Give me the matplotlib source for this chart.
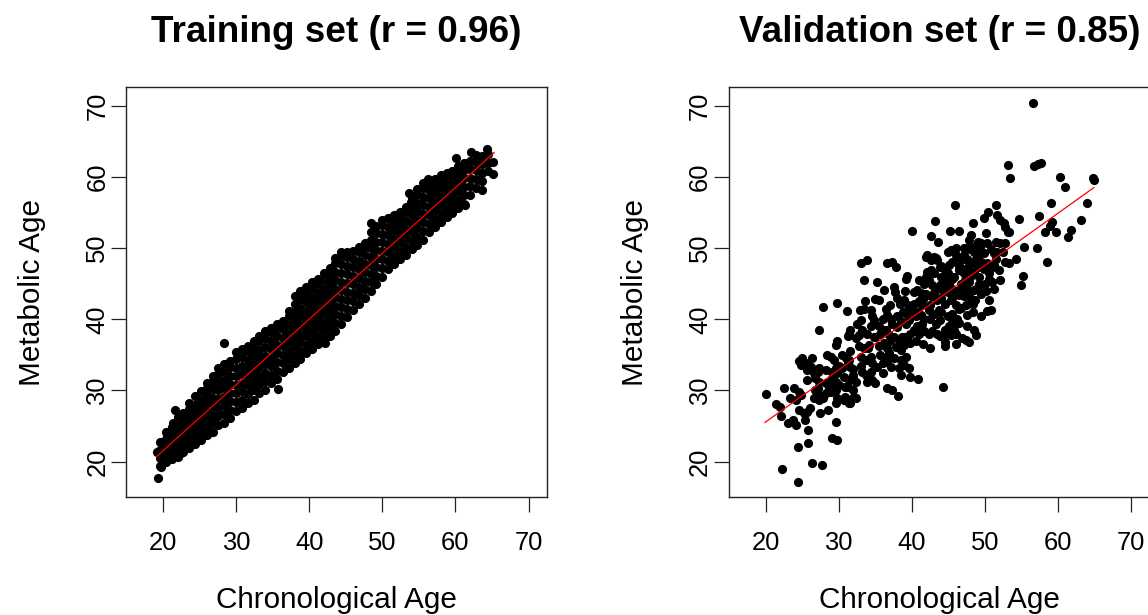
import matplotlib
matplotlib.use("Agg")
import matplotlib.pyplot as plt

plt.rcParams['font.family'] = ['Liberation Sans', 'DejaVu Sans']

# ---------------- data ----------------
titles = ["Training set (r = 0.96)", "Validation set (r = 0.85)"]
x_label = "Chronological Age"
y_label = "Metabolic Age"
ticks = [20, 30, 40, 50, 60, 70]

# Training set: dense band, listed column by column (age, [metabolic ages])
train_cols = [
    (19.6, [19.4, 20.5, 21.6, 22.7]),
    (20.4, [19.9, 21.0, 22.1, 23.2, 24.2]),
    (21.2, [20.4, 21.5, 22.6, 23.7, 24.8]),
    (22.0, [20.8, 22.0, 23.1, 24.2, 25.3, 26.3]),
    (22.8, [21.3, 22.5, 23.6, 24.7, 25.8, 26.9]),
    (23.6, [21.9, 23.0, 24.1, 25.2, 26.3, 27.4, 28.3]),
    (24.4, [22.5, 23.6, 24.7, 25.8, 26.9, 28.0, 29.2]),
    (25.2, [23.0, 24.2, 25.3, 26.4, 27.5, 28.6, 29.9]),
    (26.0, [23.7, 24.9, 26.0, 27.1, 28.2, 29.3, 30.4, 31.1]),
    (26.8, [24.2, 25.4, 26.6, 27.8, 29.0, 30.2, 31.4, 32.1]),
    (27.6, [25.1, 26.4, 27.6, 28.8, 30.0, 31.2, 32.3, 33.1]),
    (28.4, [25.5, 26.7, 27.9, 29.1, 30.3, 31.5, 32.7, 33.7]),
    (29.2, [26.1, 27.3, 28.5, 29.7, 30.9, 32.1, 33.3, 34.2]),
    (30.0, [27.1, 28.4, 29.6, 30.8, 32.0, 33.2, 34.4, 35.4]),
    (30.8, [27.5, 28.7, 29.9, 31.1, 32.3, 33.5, 34.7, 35.8]),
    (31.6, [28.2, 29.5, 30.7, 31.9, 33.1, 34.3, 35.5, 36.3]),
    (32.4, [28.7, 30.0, 31.2, 32.4, 33.6, 34.8, 36.0, 36.9]),
    (33.2, [29.7, 30.9, 32.1, 33.3, 34.5, 35.7, 36.9, 37.7]),
    (34.0, [30.1, 31.3, 32.5, 33.7, 34.9, 36.1, 37.3, 38.4]),
    (34.8, [31.0, 32.2, 33.4, 34.6, 35.8, 37.0, 38.2, 38.8]),
    (35.6, [31.6, 32.8, 34.0, 35.2, 36.4, 37.6, 38.8, 39.4]),
    (36.4, [32.6, 33.8, 35.0, 36.2, 37.4, 38.6, 39.7]),
    (37.2, [33.2, 34.4, 35.6, 36.8, 38.0, 39.2, 40.4, 41.2]),
    (38.0, [33.8, 35.0, 36.2, 37.4, 38.6, 39.8, 41.0, 42.2, 43.2]),
    (38.8, [34.4, 35.6, 36.8, 38.0, 39.2, 40.4, 41.6, 42.8, 44.0]),
    (39.6, [35.2, 36.4, 37.6, 38.8, 40.0, 41.2, 42.4, 43.6, 44.5]),
    (40.4, [35.8, 37.0, 38.2, 39.4, 40.6, 41.8, 43.0, 44.2, 45.2]),
    (41.2, [36.5, 37.7, 38.9, 40.1, 41.3, 42.5, 43.7, 44.9, 45.7]),
    (42.0, [37.1, 38.3, 39.5, 40.7, 41.9, 43.1, 44.3, 45.5, 46.5]),
    (42.8, [37.7, 38.9, 40.1, 41.3, 42.5, 43.7, 44.9, 46.1, 47.2]),
    (43.6, [38.3, 39.5, 40.7, 41.9, 43.1, 44.3, 45.5, 46.7, 47.9, 48.6]),
    (44.4, [39.3, 40.5, 41.7, 42.9, 44.1, 45.3, 46.5, 47.7, 48.9, 49.4]),
    (45.2, [40.3, 41.5, 42.7, 43.9, 45.1, 46.3, 47.5, 48.7, 49.4]),
    (46.0, [41.3, 42.5, 43.7, 44.9, 46.1, 47.3, 48.5, 49.6]),
    (46.8, [42.2, 43.4, 44.6, 45.8, 47.0, 48.2, 49.4, 50.2]),
    (47.6, [43.0, 44.2, 45.4, 46.6, 47.8, 49.0, 50.2, 50.7]),
    (48.4, [44.0, 45.2, 46.4, 47.6, 48.8, 50.0, 51.2, 52.2]),
    (49.2, [44.9, 46.1, 47.3, 48.5, 49.7, 50.9, 52.1, 53.1]),
    (50.0, [46.0, 47.2, 48.4, 49.6, 50.8, 52.0, 53.2, 54.0]),
    (50.8, [47.0, 48.2, 49.4, 50.6, 51.8, 53.0, 54.2]),
    (51.6, [47.7, 48.9, 50.1, 51.3, 52.5, 53.7, 54.6]),
    (52.4, [48.4, 49.6, 50.8, 52.0, 53.2, 54.4, 55.0]),
    (53.2, [49.0, 50.2, 51.4, 52.6, 53.8, 55.0, 55.8]),
    (54.0, [49.8, 51.0, 52.2, 53.4, 54.6, 55.8, 57.0]),
    (54.8, [50.4, 51.6, 52.8, 54.0, 55.2, 56.4, 57.6, 58.3]),
    (55.6, [51.2, 52.4, 53.6, 54.8, 56.0, 57.2, 58.4, 59.2]),
    (56.4, [52.2, 53.4, 54.6, 55.8, 57.0, 58.2, 59.2]),
    (57.2, [52.9, 54.1, 55.3, 56.5, 57.7, 58.9, 59.7]),
    (58.0, [53.6, 54.8, 56.0, 57.2, 58.4, 59.6, 60.2]),
    (58.8, [54.3, 55.5, 56.7, 57.9, 59.1, 60.3]),
    (59.6, [54.9, 56.1, 57.3, 58.5, 59.7, 60.8]),
    (60.4, [55.6, 56.8, 58.0, 59.2, 60.4, 61.5]),
    (61.2, [56.2, 57.4, 58.6, 59.8, 61.0, 62.0]),
    (62.0, [57.5, 58.7, 59.9, 61.1, 62.2]),
    (62.8, [58.5, 59.7, 60.9, 62.1, 63.1]),
    (63.6, [59.4, 60.6, 61.8, 62.9]),
    (64.4, [60.8, 62.0, 63.2]),
]
# Training set: scattered points outside the dense band
train_extra = [
    (19.3, 17.7), (19.8, 19.2), (19.2, 21.3), (20.5, 23.7), (21.6, 27.3),
    (21.4, 25.4), (20.9, 20.9), (22.1, 20.7), (22.5, 21.2),
    (28.4, 36.6), (35.8, 30.2), (42.1, 36.7), (48.5, 53.5), (53.7, 57.7),
    (53.9, 56.5), (56.3, 59.7), (58.8, 60.6), (60.1, 62.6), (61.7, 61.9),
    (62.2, 63.5), (62.9, 62.6), (64.3, 63.9), (65.2, 62.1), (65.1, 60.4),
    (63.6, 58.2), (63.3, 59.6), (61.3, 56.1), (56.9, 53.0),
]
# Training regression line end points
train_fit_x = [19.1, 65.3]
train_fit_y = [20.7, 63.4]

# Validation set: (chronological age, metabolic age)
val_points = [
    (20.0, 29.5), (21.4, 28.1), (21.9, 27.7), (22.5, 30.3), (22.1, 26.4), (22.3, 19.0),
    (23.1, 25.5), (23.8, 25.9), (24.1, 25.2), (23.9, 30.3), (24.5, 29.8), (24.8, 29.4),
    (23.4, 28.9), (24.1, 28.7), (24.4, 22.1), (24.4, 17.2), (24.6, 27.3), (25.2, 26.8),
    (25.6, 27.0), (25.8, 24.5), (25.8, 22.6), (25.4, 25.8), (26.1, 27.5), (26.3, 19.8),
    (27.7, 19.5), (24.6, 34.1), (25.0, 34.5), (24.8, 33.6), (25.5, 33.8), (25.7, 32.9),
    (26.2, 33.3), (26.6, 32.4), (27.1, 32.6), (27.3, 33.1), (25.6, 31.5), (26.8, 31.7),
    (27.3, 31.2), (26.3, 34.5), (26.7, 30.1), (27.1, 30.3), (26.6, 28.9), (27.3, 28.7),
    (27.8, 28.9), (27.5, 26.8), (28.5, 27.3), (27.3, 38.5), (27.9, 41.7), (28.4, 35.0),
    (28.9, 34.7), (29.3, 34.3), (28.3, 32.9), (29.1, 32.6), (29.6, 33.1), (29.8, 32.4),
    (28.4, 31.0), (29.1, 31.7), (29.6, 31.2), (30.0, 30.8), (29.0, 29.8), (29.6, 30.1),
    (29.6, 28.3), (29.8, 28.9), (29.6, 25.6), (29.1, 23.3), (29.8, 23.0), (29.7, 42.3),
    (29.6, 36.4), (29.8, 36.9), (30.5, 35.0), (31.0, 34.5), (31.4, 34.3), (30.5, 33.1),
    (31.2, 33.8), (31.6, 33.3), (30.7, 31.9), (31.4, 31.5), (31.9, 32.2), (31.2, 30.5),
    (31.9, 30.1), (30.7, 28.7), (31.4, 28.4), (31.9, 28.9), (32.3, 28.9), (31.6, 28.2),
    (31.1, 41.1), (31.2, 37.6), (31.4, 38.0), (31.6, 38.5), (32.3, 37.3), (32.8, 37.8),
    (32.5, 39.4), (33.0, 39.9), (32.9, 41.3), (33.5, 41.5), (34.4, 41.3), (33.5, 45.5),
    (33.0, 47.9), (33.8, 48.3), (33.6, 42.6), (33.2, 38.5), (33.9, 38.0), (34.4, 39.0),
    (32.8, 36.2), (33.5, 35.9), (34.1, 36.4), (33.0, 34.7), (33.7, 34.3), (34.4, 34.7),
    (33.2, 32.6), (33.7, 32.2), (34.4, 32.6), (33.9, 31.2), (34.6, 31.5), (35.0, 31.0),
    (34.6, 33.8), (35.3, 33.3), (34.8, 37.5), (34.8, 39.9), (34.6, 40.4), (35.0, 42.9),
    (35.5, 42.7), (35.2, 45.3), (36.2, 44.1), (36.6, 47.9), (37.3, 48.1), (37.8, 47.4),
    (36.0, 40.1), (36.6, 40.6), (37.1, 40.1), (35.7, 38.0), (36.4, 38.5), (36.9, 37.8),
    (35.5, 36.2), (36.2, 36.6), (36.6, 35.9), (35.7, 35.0), (36.4, 34.7), (36.9, 35.2),
    (36.0, 33.8), (36.6, 34.0), (36.0, 32.4), (37.1, 33.3), (36.6, 30.3), (37.3, 30.1),
    (38.1, 29.2), (37.3, 39.4), (38.0, 38.9), (38.5, 39.7), (37.6, 37.5), (38.2, 37.1),
    (38.7, 37.5), (37.8, 36.1), (38.5, 35.7), (38.9, 36.4), (37.6, 34.5), (38.5, 34.3),
    (39.2, 34.7), (38.2, 33.1), (38.9, 33.6), (39.6, 33.1), (38.5, 32.2), (39.8, 31.9),
    (37.7, 43.9), (38.4, 42.2), (38.9, 42.7), (39.2, 45.7), (39.4, 46.1), (39.4, 40.8),
    (39.8, 41.3), (39.2, 39.4), (39.6, 39.9), (39.8, 38.0), (40.3, 38.5), (39.8, 36.6),
    (40.8, 31.6), (40.0, 52.4), (40.3, 43.9), (40.7, 44.1), (41.2, 43.7), (40.3, 42.2),
    (41.0, 42.5), (41.4, 42.0), (40.5, 40.4), (41.2, 40.6), (41.7, 40.1), (40.7, 39.0),
    (41.4, 39.4), (41.7, 38.3), (42.3, 38.0), (42.8, 38.3), (42.1, 49.0), (41.9, 48.8),
    (42.6, 51.7), (43.2, 53.8), (41.7, 45.0), (42.3, 45.5), (42.8, 44.8), (42.1, 46.7),
    (42.6, 46.9), (43.0, 48.8), (43.5, 48.3), (43.6, 50.9), (42.6, 43.2), (43.0, 43.7),
    (43.5, 42.7), (42.3, 41.3), (43.0, 40.8), (43.7, 41.3), (43.3, 39.4), (43.9, 39.9),
    (43.9, 37.6), (44.6, 38.0), (44.6, 36.2), (44.2, 30.5), (43.9, 47.4), (44.6, 46.9),
    (45.1, 47.6), (44.9, 49.5), (45.2, 52.4), (45.9, 56.0), (46.4, 52.4), (44.4, 45.5),
    (45.1, 45.0), (45.5, 45.7), (44.2, 44.1), (44.9, 43.9), (45.5, 44.3), (44.6, 42.2),
    (45.3, 42.7), (46.0, 42.0), (44.9, 40.4), (45.5, 40.8), (46.2, 40.1), (45.1, 39.0),
    (45.8, 38.5), (45.3, 37.8), (46.0, 38.0), (46.2, 48.8), (46.7, 48.3), (47.1, 49.0),
    (46.4, 46.9), (47.1, 46.5), (47.6, 47.2), (46.7, 45.0), (47.4, 44.6), (47.8, 45.3),
    (46.4, 43.4), (47.1, 43.2), (47.8, 43.6), (46.7, 41.6), (47.4, 42.0), (46.9, 37.3),
    (47.4, 37.1), (47.6, 40.6), (48.3, 41.0), (47.8, 51.1), (48.1, 51.8), (48.4, 53.5),
    (49.0, 50.9), (49.4, 50.7), (48.5, 49.5), (49.2, 49.0), (49.9, 49.3), (48.3, 47.9),
    (49.0, 47.4), (49.6, 47.9), (48.5, 46.5), (49.2, 46.0), (48.5, 44.1), (49.0, 44.6),
    (48.7, 42.7), (48.3, 42.2), (49.4, 40.4), (49.9, 54.2), (50.4, 55.1), (50.2, 52.1),
    (50.3, 47.9), (50.8, 47.2), (51.2, 47.6), (50.6, 45.7), (51.0, 45.3), (50.3, 50.7),
    (51.2, 49.3), (51.7, 49.5), (50.6, 42.7), (50.8, 41.3), (50.3, 41.1), (51.2, 44.3),
    (51.5, 56.0), (51.7, 54.6), (52.1, 53.9), (52.6, 53.5), (51.5, 50.9), (52.1, 50.7),
    (51.9, 46.9), (52.1, 45.5), (52.4, 49.5), (52.8, 53.0), (53.1, 52.3), (53.3, 52.2),
    (52.8, 50.7), (52.8, 48.1), (53.3, 47.9), (53.2, 61.6), (53.4, 59.9), (54.2, 48.4),
    (54.7, 54.1), (54.9, 44.8), (55.2, 46.1), (55.4, 50.2), (56.5, 70.4), (56.7, 61.5),
    (57.2, 61.8), (57.7, 62.0), (57.1, 50.0), (57.4, 54.5), (58.2, 52.2), (58.9, 53.1),
    (59.1, 53.7), (59.0, 56.3), (58.5, 48.1), (59.7, 52.2), (60.3, 60.0), (60.9, 58.6),
    (61.3, 51.6), (61.7, 52.5), (63.1, 54.0), (64.0, 56.4), (64.9, 59.6), (64.8, 59.8),
    (27.1, 28.9), (27.5, 29.4), (28.2, 29.6), (28.7, 30.5), (29.3, 30.1), (30.9, 29.1),
    (31.4, 28.2), (32.1, 29.1), (30.9, 30.5), (32.3, 31.2), (28.2, 31.0), (29.3, 31.2),
    (31.9, 31.7),
    (38.0, 40.5), (38.8, 41.0), (39.5, 42.0), (40.0, 41.2), (40.8, 41.0), (41.5, 42.8),
    (42.0, 43.5), (42.5, 42.0), (43.2, 44.0), (43.8, 44.8), (44.0, 43.0), (44.5, 45.8),
    (45.0, 44.5), (45.8, 46.0), (46.2, 44.0), (46.8, 46.8), (47.2, 45.5), (47.8, 48.0),
    (48.0, 46.0), (48.8, 48.5), (49.2, 45.0), (49.8, 47.0), (41.0, 45.5), (42.0, 46.0),
    (43.0, 46.5), (44.0, 47.5), (45.5, 48.0), (46.0, 50.0), (47.5, 50.0), (48.5, 50.2),
    (39.0, 37.5), (40.5, 37.0), (41.5, 36.5), (42.5, 36.0), (43.5, 38.0), (44.5, 38.5),
    (45.5, 39.5), (46.5, 39.5), (47.5, 39.0), (48.5, 38.5), (37.0, 42.0), (37.5, 44.5),
    (38.0, 43.0), (39.0, 44.0), (36.0, 38.5), (35.0, 37.5), (34.0, 36.0), (33.0, 33.5),
    (32.0, 33.0), (31.5, 35.5), (30.0, 33.5), (36.5, 41.5), (35.5, 39.0), (37.0, 37.0),
    (45.3, 49.7), (47.1, 50.0), (48.0, 49.8), (49.3, 50.2), (50.8, 49.9), (43.3, 48.6),
    (42.6, 48.3), (46.0, 49.0), (47.5, 48.5), (44.0, 46.0), (45.0, 46.5), (46.5, 47.5),
    (48.0, 46.8), (49.5, 48.0), (50.5, 46.5), (51.5, 48.5), (50.0, 45.0), (47.0, 44.0),
    (45.5, 43.0), (44.0, 41.0), (42.5, 40.0), (41.0, 38.0), (46.5, 41.5), (48.0, 43.0),
    (49.5, 43.5), (50.2, 44.0), (44.5, 36.8), (46.0, 36.5), (47.8, 36.8), (48.8, 37.8),
]
# Validation regression line end points
val_fit_x = [19.9, 64.9]
val_fit_y = [25.5, 58.5]

# ---------------- assemble ----------------
train_x = [cx for cx, ys in train_cols for _ in ys] + [p[0] for p in train_extra]
train_y = [y for cx, ys in train_cols for y in ys] + [p[1] for p in train_extra]
val_x = [p[0] for p in val_points]
val_y = [p[1] for p in val_points]

# ---------------- figure ----------------
W, H = 1148, 615
fig = plt.figure(figsize=(W / 100, H / 100), dpi=100)


def rect(l, t, r, b):
    return [l / W, 1 - b / H, (r - l) / W, (b - t) / H]


ax1 = fig.add_axes(rect(126, 87.3, 547.3, 496.7))
ax2 = fig.add_axes(rect(728.7, 87.3, 1150.0, 496.7))

panels = [
    (ax1, train_x, train_y, train_fit_x, train_fit_y, titles[0]),
    (ax2, val_x, val_y, val_fit_x, val_fit_y, titles[1]),
]

for ax, xs, ys, fx, fy, title in panels:
    ax.plot(xs, ys, 'o', color='black', ms=6.6, mew=0, zorder=2)
    ax.plot(fx, fy, '-', color='#ff0000', lw=0.9, zorder=3)
    ax.set_xlim(14.95, 72.57)
    ax.set_ylim(15.08, 72.58)
    ax.set_xticks(ticks)
    ax.set_yticks(ticks)
    ax.set_xticklabels([str(t) for t in ticks])
    ax.set_yticklabels([str(t) for t in ticks], rotation=90, va='center')
    ax.tick_params(axis='both', direction='out', length=10.5, width=0.9,
                   color='#222222', labelsize=18.4, labelcolor='black')
    ax.tick_params(axis='x', pad=14.0)
    ax.tick_params(axis='y', pad=1.5)
    for sp in ax.spines.values():
        sp.set_linewidth(1.0)
        sp.set_color('#222222')
    bb = ax.get_position()
    cx = (bb.x0 + bb.x1) / 2
    fig.text(cx, 1 - 42 / H, title, ha='center', va='baseline',
             fontsize=26.6, fontweight='bold')
    fig.text(cx, 1 - 608 / H, x_label, ha='center', va='baseline', fontsize=21.4)
    fig.text((bb.x0 * W - 94) / W, (bb.y0 + bb.y1) / 2, y_label, ha='center',
             va='center', rotation=90, fontsize=21.4)

fig.savefig("out.png", dpi=100)
